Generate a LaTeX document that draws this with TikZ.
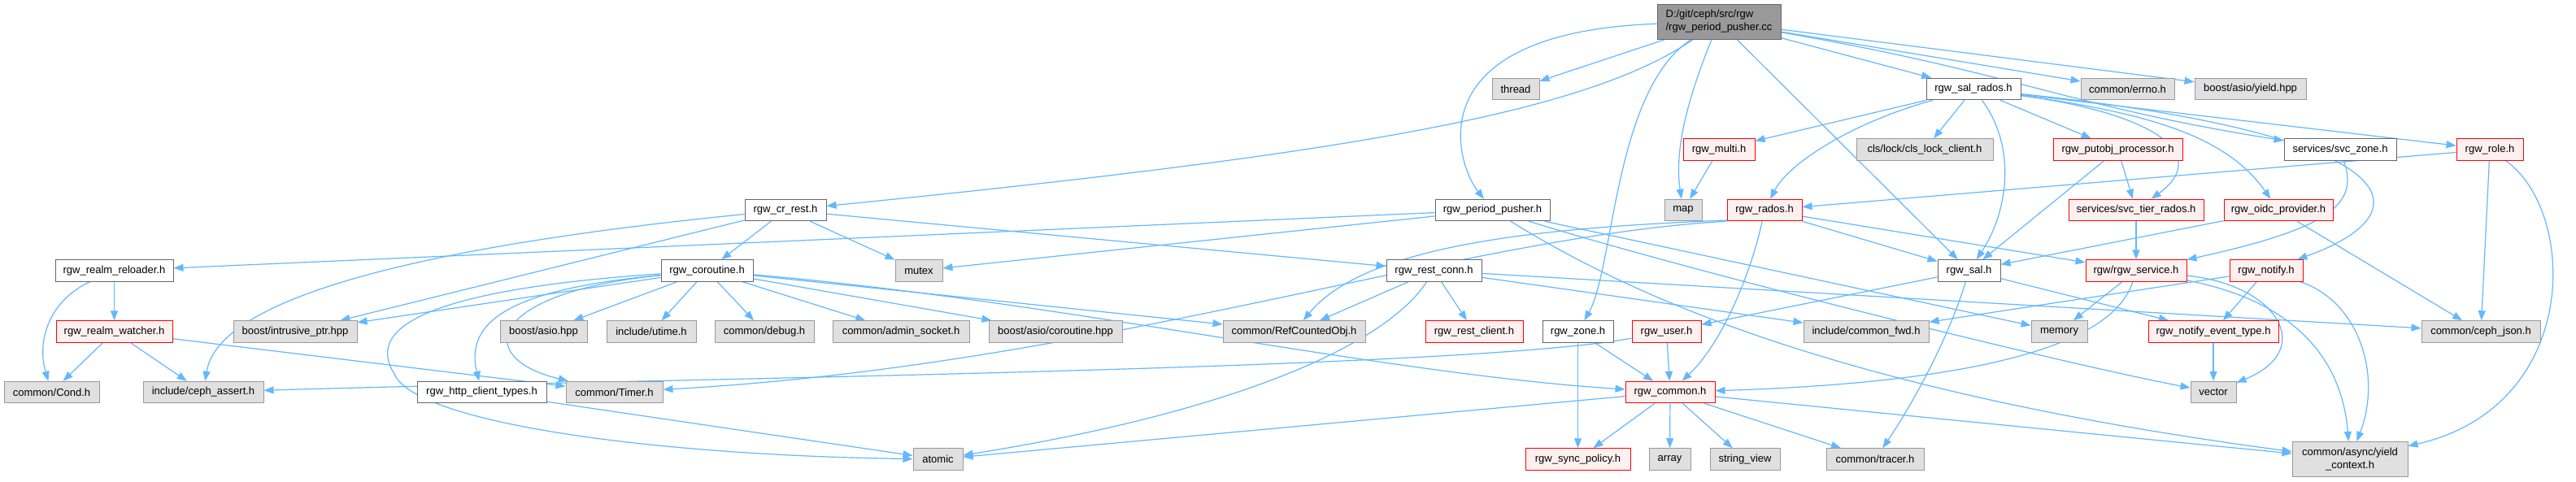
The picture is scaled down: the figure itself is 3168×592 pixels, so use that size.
\documentclass[tikz,border=0pt]{standalone}
\usepackage{fontspec}
\setmainfont{Liberation Sans}
\usetikzlibrary{arrows.meta}
\definecolor{edgec}{HTML}{63B8FF}
\definecolor{gfill}{HTML}{E0E0E0}
\definecolor{gline}{HTML}{999999}
\definecolor{wline}{HTML}{666666}
\definecolor{rfill}{HTML}{FFF0F0}
\definecolor{rline}{HTML}{FF0000}
\definecolor{rootfill}{HTML}{999999}
\pgfdeclarelayer{bgfill}
\pgfdeclarelayer{bg}
\pgfsetlayers{bgfill,bg,main}
\newcommand{\mknode}[6]{\node[#2, minimum width={#4-#3}] (#1) at ({(#3+#4)/2},#5) {#6};}
\begin{document}
\begin{tikzpicture}[x=1pt,y=-1pt,
  nbase/.style={draw, inner sep=0pt, minimum height=26.5pt, line width=1pt, font=\fontsize{13}{16}\selectfont, text=black},
  gn/.style={nbase, fill=gfill, draw=gline},
  wn/.style={nbase, fill=white, draw=wline},
  rn/.style={nbase, fill=rfill, draw=rline},
  rootn/.style={nbase, fill=rootfill, draw=wline},
  conn/.style={draw=edgec, line width=1.2pt, -{Triangle[length=12pt,width=9pt]}}]
\useasboundingbox (0,0) rectangle (3168,592);
\begin{pgfonlayer}{bgfill}
\fill[white] (0,0) rectangle (3168,592);
\end{pgfonlayer}
% rows
\def\RA{109.5}\def\RB{184}\def\RC{258.5}\def\RD{333}\def\RE{408}\def\RF{482.5}\def\RG{565}
\node[rootn, minimum width=152pt, minimum height=43pt, align=left] (root) at (2114,26.5) {D:/git/ceph/src/rgw\\/rgw\_period\_pusher.cc};
\mknode{thread}{gn}{1835}{1893}{\RA}{thread}
\mknode{salrados}{wn}{2369}{2485}{\RA}{rgw\_sal\_rados.h}
\mknode{errno}{gn}{2559}{2674}{\RA}{common/errno.h}
\mknode{yieldhpp}{gn}{2699}{2836}{\RA}{boost/asio/yield.hpp}
\mknode{multi}{rn}{2070}{2158}{\RB}{rgw\_multi.h}
\mknode{clslock}{gn}{2283}{2451}{\RB}{cls/lock/cls\_lock\_client.h}
\mknode{putobj}{rn}{2525}{2684}{\RB}{rgw\_putobj\_processor.h}
\mknode{svczone}{wn}{2809}{2947}{\RB}{services/svc\_zone.h}
\mknode{role}{rn}{3021}{3103}{\RB}{rgw\_role.h}
\mknode{crrest}{wn}{916}{1016}{\RC}{rgw\_cr\_rest.h}
\mknode{pp}{wn}{1765}{1906}{\RC}{rgw\_period\_pusher.h}
\mknode{map}{gn}{2047}{2093}{\RC}{map}
\mknode{rados}{rn}{2124}{2216}{\RC}{rgw\_rados.h}
\mknode{svctier}{rn}{2544}{2710}{\RC}{services/svc\_tier\_rados.h}
\mknode{oidc}{rn}{2735}{2869}{\RC}{rgw\_oidc\_provider.h}
\mknode{reloader}{wn}{68}{213}{\RD}{rgw\_realm\_reloader.h}
\mknode{coroutine}{wn}{813}{926}{\RD}{rgw\_coroutine.h}
\mknode{mutex}{gn}{1101}{1159}{\RD}{mutex}
\mknode{restconn}{wn}{1705}{1822}{\RD}{rgw\_rest\_conn.h}
\mknode{sal}{wn}{2383}{2460}{\RD}{rgw\_sal.h}
\mknode{service}{rn}{2565}{2689}{\RD}{rgw/rgw\_service.h}
\mknode{notify}{rn}{2742}{2832}{\RD}{rgw\_notify.h}
\mknode{watcher}{rn}{69}{212}{\RE}{rgw\_realm\_watcher.h}
\mknode{intrusive}{gn}{287}{439}{\RE}{boost/intrusive\_ptr.hpp}
\mknode{asiohpp}{gn}{615}{722}{\RE}{boost/asio.hpp}
\mknode{utime}{gn}{746}{856}{\RE}{include/utime.h}
\mknode{debug}{gn}{879}{1001}{\RE}{common/debug.h}
\mknode{adminsock}{gn}{1024}{1192}{\RE}{common/admin\_socket.h}
\mknode{corohpp}{gn}{1216}{1380}{\RE}{boost/asio/coroutine.hpp}
\mknode{refcounted}{gn}{1504}{1679}{\RE}{common/RefCountedObj.h}
\mknode{restclient}{rn}{1753}{1873}{\RE}{rgw\_rest\_client.h}
\mknode{zone}{wn}{1897}{1984}{\RE}{rgw\_zone.h}
\mknode{user}{rn}{2007}{2092}{\RE}{rgw\_user.h}
\mknode{commonfwd}{gn}{2218}{2372}{\RE}{include/common\_fwd.h}
\mknode{memory}{gn}{2498}{2567}{\RE}{memory}
\mknode{evtype}{rn}{2642}{2802}{\RE}{rgw\_notify\_event\_type.h}
\mknode{cephjson}{gn}{2978}{3124}{\RE}{common/ceph\_json.h}
\mknode{cond}{gn}{5}{122}{\RF}{common/Cond.h}
\mknode{assert}{gn}{176}{324}{\RF}{include/ceph\_assert.h}
\mknode{httptypes}{wn}{513}{672}{\RF}{rgw\_http\_client\_types.h}
\mknode{timer}{gn}{696}{815}{\RF}{common/Timer.h}
\mknode{common}{rn}{1999}{2109}{\RF}{rgw\_common.h}
\mknode{vector}{gn}{2694}{2750}{\RF}{vector}
\mknode{atomic}{gn}{1123}{1184}{\RG}{atomic}
\mknode{syncpolicy}{rn}{1876}{2005}{\RG}{rgw\_sync\_policy.h}
\mknode{array}{gn}{2028}{2079}{\RG}{array}
\mknode{stringview}{gn}{2103}{2189}{\RG}{string\_view}
\mknode{tracer}{gn}{2246}{2366}{\RG}{common/tracer.h}
\node[gn, minimum width=142pt, minimum height=43pt, align=center] (yieldctx) at (2890,565) {common/async/yield\\\_context.h};
\begin{pgfonlayer}{bg}
% root
\draw[conn] (root) .. controls (1950,140) and (1650,190) .. (crrest);
\draw[conn] (root) -- (thread);
\draw[conn] (root) .. controls (1740,40) and (1790,200) .. (pp);
\draw[conn] (root) .. controls (2080,110) and (2058,180) .. (map);
\draw[conn] (root) .. controls (1985,110) and (1985,330) .. (zone);
\draw[conn] (root) -- (sal);
\draw[conn] (root) -- (salrados);
\draw[conn] (root) -- (errno);
\draw[conn] (root) -- (yieldhpp);
\draw[conn] (root) .. controls (2480,90) and (2540,130) .. (svczone);
% rgw_sal_rados.h
\draw[conn] (salrados) -- (multi);
\draw[conn] (salrados) .. controls (2280,150) and (2200,200) .. (rados);
\draw[conn] (salrados) -- (clslock);
\draw[conn] (salrados) .. controls (2480,180) and (2470,260) .. (sal);
\draw[conn] (salrados) -- (putobj);
\draw[conn] (salrados) .. controls (2650,140) and (2720,190) .. (svctier);
\draw[conn] (salrados) .. controls (2650,140) and (2740,170) .. (oidc);
\draw[conn] (salrados) .. controls (2960,165) and (2990,260) .. (notify);
\draw[conn] (salrados) -- (role);
% row 2
\draw[conn] (multi) -- (map);
\draw[conn] (putobj) -- (sal);
\draw[conn] (putobj) -- (svctier);
\draw[conn] (svczone) .. controls (2900,250) and (2870,280) .. (service);
\draw[conn] (role) -- (rados);
\draw[conn] (role) -- (cephjson);
\draw[conn] (role) .. controls (3170,260) and (3175,500) .. (yieldctx);
% row 3
\draw[conn] (svctier) -- (service);
\draw[conn] (oidc) -- (sal);
\draw[conn] (oidc) -- (cephjson);
\draw[conn] (rados) -- (sal);
\draw[conn] (rados) -- (service);
\draw[conn] (rados) .. controls (2155,330) and (2120,420) .. (common);
\draw[conn] (rados.195) .. controls (1900,280) and (1680,300) .. (refcounted);
\draw[conn] (rados.south west) .. controls (1800,290) and (1350,450) .. (timer);
\draw[conn] (crrest) -- (coroutine);
\draw[conn] (crrest) -- (restconn);
\draw[conn] (crrest) -- (mutex);
\draw[conn] (crrest) -- (intrusive);
\draw[conn] (crrest) .. controls (550,300) and (270,360) .. (assert);
\draw[conn] (pp) -- (reloader);
\draw[conn] (pp) -- (mutex);
\draw[conn] (pp) -- (memory);
\draw[conn] (pp) .. controls (2000,360) and (2250,480) .. (yieldctx);
\draw[conn] (pp) .. controls (2100,340) and (2550,450) .. (vector);
% row 4
\draw[conn] (reloader) -- (watcher);
\draw[conn] (reloader) .. controls (60,370) and (45,420) .. (cond);
\draw[conn] (coroutine) -- (intrusive);
\draw[conn] (coroutine) -- (asiohpp);
\draw[conn] (coroutine) -- (utime);
\draw[conn] (coroutine) -- (debug);
\draw[conn] (coroutine) -- (adminsock);
\draw[conn] (coroutine) -- (corohpp);
\draw[conn] (coroutine) -- (refcounted);
\draw[conn] (coroutine) .. controls (1300,370) and (1700,460) .. (common);
\draw[conn] (coroutine) .. controls (640,355) and (570,390) .. (httptypes);
\draw[conn] (coroutine) .. controls (600,360) and (580,440) .. (timer);
\draw[conn] (coroutine) .. controls (470,360) and (460,420) .. (485,460) .. controls (510,520) and (800,560) .. (atomic);
\draw[conn] (restconn) -- (refcounted);
\draw[conn] (restconn) -- (restclient);
\draw[conn] (restconn) .. controls (1700,430) and (1500,510) .. (atomic);
\draw[conn] (restconn) -- (cephjson);
\draw[conn] (restconn) -- (commonfwd);
\draw[conn] (sal) -- (user);
\draw[conn] (sal) -- (evtype);
\draw[conn] (sal) .. controls (2395,420) and (2350,500) .. (tracer);
\draw[conn] (service) -- (memory);
\draw[conn] (service) .. controls (2800,350) and (2850,430) .. (vector);
\draw[conn] (service) .. controls (2820,370) and (2880,440) .. (yieldctx);
\draw[conn] (service) .. controls (2600,420) and (2450,470) .. (common);
\draw[conn] (notify) -- (commonfwd);
\draw[conn] (notify) -- (evtype);
\draw[conn] (notify) .. controls (2900,370) and (2930,460) .. (yieldctx);
% row 5
\draw[conn] (watcher) -- (cond);
\draw[conn] (watcher) -- (assert);
\draw[conn] (watcher) -- (timer);
\draw[conn] (evtype) -- (vector);
\draw[conn] (user) -- (common);
\draw[conn] (user) .. controls (1800,455) and (800,466) .. (assert);
\draw[conn] (zone) -- (syncpolicy);
\draw[conn] (zone) -- (common);
% row 6
\draw[conn] (common) -- (syncpolicy);
\draw[conn] (common) -- (array);
\draw[conn] (common) -- (stringview);
\draw[conn] (common) -- (tracer);
\draw[conn] (common) -- (yieldctx);
\draw[conn] (common) -- (atomic);
\draw[conn] (httptypes) -- (atomic);
\end{pgfonlayer}
\end{tikzpicture}
\end{document}
